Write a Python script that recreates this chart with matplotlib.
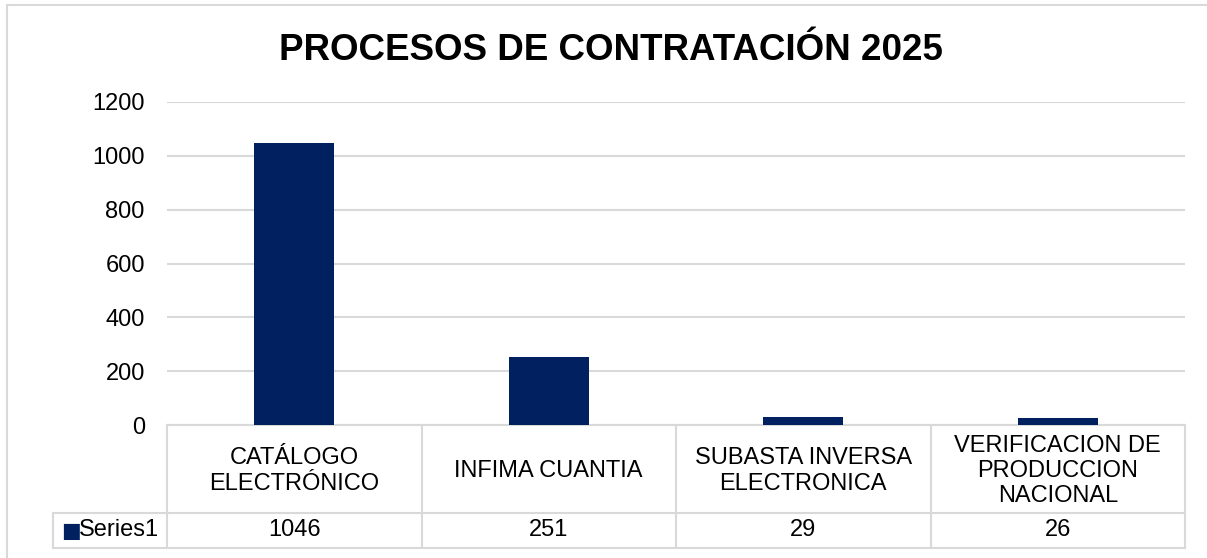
import numpy as np
import matplotlib.pyplot as plt
from matplotlib.patches import Rectangle

plt.rcParams['font.family'] = ['Liberation Sans', 'DejaVu Sans']

categories = ['CATÁLOGO\nELECTRÓNICO', 'INFIMA CUANTIA',
              'SUBASTA INVERSA\nELECTRONICA', 'VERIFICACION DE\nPRODUCCION\nNACIONAL']
values = [1046, 251, 29, 26]
series_name = 'Series1'
yticks = [0, 200, 400, 600, 800, 1000, 1200]

bar_color = '#002060'
line_color = '#d9d9d9'

W, H = 1207, 558
fig = plt.figure(figsize=(W / 100, H / 100), dpi=100)

# outer chart border
fig.patches.append(Rectangle((7 / W, -0.05), 1.1, 1 - 5 / H + 0.05, transform=fig.transFigure,
                             fill=False, edgecolor=line_color, linewidth=1.5))

ax = fig.add_axes([167 / W, 1 - 425 / H, (1185 - 167) / W, (425 - 102) / H])

x = np.arange(len(values))
ax.bar(x, values, width=0.314, color=bar_color, zorder=3)

ax.set_xlim(-0.5, len(values) - 0.5)
ax.set_ylim(0, 1200)
ax.set_yticks(yticks)
ax.set_yticklabels([str(t) for t in yticks], fontsize=17)
ax.tick_params(axis='y', length=0, pad=16)
ax.set_xticks([])
ax.grid(axis='y', color=line_color, linewidth=1.5, zorder=0)
for s in ax.spines.values():
    s.set_visible(False)

fig.text(0.506, 1 - 51 / H, 'PROCESOS DE CONTRATACIÓN 2025', ha='center', va='center',
         fontsize=26.5, fontweight='bold')

# data table below the plot
tr = ax.get_xaxis_transform()
ah = 425 - 102
r1 = -(513 - 425) / ah
r2 = -(548 - 425) / ah
lx = -0.5 - 114 / 254.5
n = len(values)
kw = dict(transform=tr, color=line_color, linewidth=1.5, clip_on=False)
ax.plot([-0.5, n - 0.5], [0, 0], **kw)
ax.plot([lx, n - 0.5], [r1, r1], **kw)
ax.plot([lx, n - 0.5], [r2, r2], **kw)
ax.plot([lx, lx], [r1, r2], **kw)
for b in np.arange(n + 1) - 0.5:
    ax.plot([b, b], [0, r2], **kw)

for i in range(n):
    ax.text(i, r1 / 2 - 0.006, categories[i], transform=tr, ha='center', va='center',
            fontsize=17, linespacing=1.2, clip_on=False)
    ax.text(i, (r1 + r2) / 2, str(values[i]), transform=tr, ha='center', va='center',
            fontsize=17, clip_on=False)

ax.text(lx + 0.033, (r1 + r2) / 2, '■', transform=tr, ha='left', va='center',
        fontsize=15, color=bar_color, family='DejaVu Sans', clip_on=False)
ax.text(lx + 0.102, (r1 + r2) / 2, series_name, transform=tr, ha='left', va='center',
        fontsize=17, clip_on=False)

fig.savefig('out.png', dpi=100, facecolor='white')
